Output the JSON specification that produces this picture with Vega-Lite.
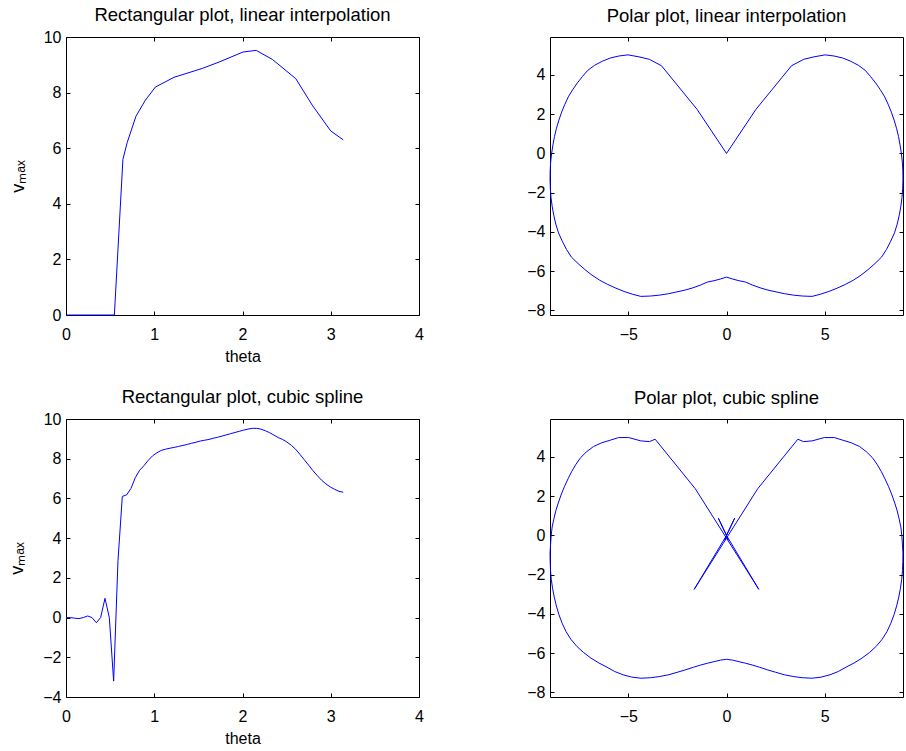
{
  "$schema": "https://vega.github.io/schema/vega-lite/v6.json",
  "padding": {"left": 8, "top": 5, "right": 0, "bottom": 0},
  "datasets": {
    "lin": [
      {"t": 0, "v": 0}, {"t": 0.548, "v": 0}, {"t": 0.645, "v": 5.6}, {"t": 0.693, "v": 6.2},
      {"t": 0.793, "v": 7.15}, {"t": 0.898, "v": 7.72}, {"t": 1.013, "v": 8.2}, {"t": 1.224, "v": 8.55},
      {"t": 1.545, "v": 8.87}, {"t": 1.735, "v": 9.1}, {"t": 2.006, "v": 9.46}, {"t": 2.155, "v": 9.52},
      {"t": 2.34, "v": 9.19}, {"t": 2.604, "v": 8.5}, {"t": 2.79, "v": 7.55}, {"t": 3.0, "v": 6.62},
      {"t": 3.1416, "v": 6.3}
    ],
    "spl": [
      {"t": 0, "v": 0}, {"t": 0.0491, "v": 0}, {"t": 0.0982, "v": -0.03}, {"t": 0.1473, "v": -0.05},
      {"t": 0.1963, "v": 0}, {"t": 0.2454, "v": 0.08}, {"t": 0.2945, "v": 0}, {"t": 0.3436, "v": -0.26},
      {"t": 0.3927, "v": 0}, {"t": 0.4418, "v": 0.97}, {"t": 0.4909, "v": 0}, {"t": 0.54, "v": -3.2},
      {"t": 0.589, "v": 2.86}, {"t": 0.6381, "v": 6.1}, {"t": 0.6872, "v": 6.18}, {"t": 0.7363, "v": 6.5},
      {"t": 0.7854, "v": 7.05}, {"t": 0.8345, "v": 7.42}, {"t": 0.8836, "v": 7.65}, {"t": 0.9327, "v": 7.92},
      {"t": 0.9817, "v": 8.15}, {"t": 1.0308, "v": 8.3}, {"t": 1.0799, "v": 8.42}, {"t": 1.129, "v": 8.48},
      {"t": 1.1781, "v": 8.53}, {"t": 1.2272, "v": 8.57}, {"t": 1.2763, "v": 8.62}, {"t": 1.3254, "v": 8.67},
      {"t": 1.3744, "v": 8.72}, {"t": 1.4235, "v": 8.78}, {"t": 1.4726, "v": 8.83}, {"t": 1.5217, "v": 8.89},
      {"t": 1.5708, "v": 8.93}, {"t": 1.6199, "v": 8.97}, {"t": 1.669, "v": 9.03}, {"t": 1.7181, "v": 9.08},
      {"t": 1.7671, "v": 9.14}, {"t": 1.8162, "v": 9.2}, {"t": 1.8653, "v": 9.26}, {"t": 1.9144, "v": 9.32},
      {"t": 1.9635, "v": 9.38}, {"t": 2.0126, "v": 9.44}, {"t": 2.0617, "v": 9.49}, {"t": 2.1108, "v": 9.53},
      {"t": 2.1598, "v": 9.53}, {"t": 2.2089, "v": 9.49}, {"t": 2.258, "v": 9.41}, {"t": 2.3071, "v": 9.31},
      {"t": 2.3562, "v": 9.19}, {"t": 2.4053, "v": 9.06}, {"t": 2.4544, "v": 8.97}, {"t": 2.5035, "v": 8.84},
      {"t": 2.5525, "v": 8.68}, {"t": 2.6016, "v": 8.48}, {"t": 2.6507, "v": 8.22}, {"t": 2.6998, "v": 7.95},
      {"t": 2.7489, "v": 7.68}, {"t": 2.798, "v": 7.4}, {"t": 2.8471, "v": 7.15}, {"t": 2.8962, "v": 6.92},
      {"t": 2.9452, "v": 6.73}, {"t": 2.9943, "v": 6.58}, {"t": 3.0434, "v": 6.46}, {"t": 3.0925, "v": 6.36},
      {"t": 3.1416, "v": 6.31}
    ],
    "plin": [
      {"s": "R", "k": 11, "x": 0, "y": 0}, {"s": "R", "k": 12, "x": 1.5, "y": 2.245}, {"s": "R", "k": 13, "x": 3.312, "y": 4.466},
      {"s": "R", "k": 14, "x": 3.933, "y": 4.793}, {"s": "R", "k": 15, "x": 4.459, "y": 4.92}, {"s": "R", "k": 16, "x": 5.02, "y": 5.02},
      {"s": "R", "k": 17, "x": 5.476, "y": 4.963}, {"s": "R", "k": 18, "x": 5.921, "y": 4.86}, {"s": "R", "k": 19, "x": 6.329, "y": 4.694},
      {"s": "R", "k": 20, "x": 6.718, "y": 4.489}, {"s": "R", "k": 21, "x": 7.063, "y": 4.234}, {"s": "R", "k": 22, "x": 7.335, "y": 3.921},
      {"s": "R", "k": 23, "x": 7.594, "y": 3.592}, {"s": "R", "k": 24, "x": 7.835, "y": 3.245}, {"s": "R", "k": 25, "x": 8.057, "y": 2.883},
      {"s": "R", "k": 26, "x": 8.235, "y": 2.498}, {"s": "R", "k": 27, "x": 8.396, "y": 2.103}, {"s": "R", "k": 28, "x": 8.537, "y": 1.698},
      {"s": "R", "k": 29, "x": 8.659, "y": 1.284}, {"s": "R", "k": 30, "x": 8.761, "y": 0.863}, {"s": "R", "k": 31, "x": 8.841, "y": 0.434},
      {"s": "R", "k": 32, "x": 8.907, "y": 0}, {"s": "R", "k": 33, "x": 8.956, "y": -0.44}, {"s": "R", "k": 34, "x": 8.982, "y": -0.885},
      {"s": "R", "k": 35, "x": 8.987, "y": -1.333}, {"s": "R", "k": 36, "x": 8.973, "y": -1.785}, {"s": "R", "k": 37, "x": 8.939, "y": -2.239},
      {"s": "R", "k": 38, "x": 8.88, "y": -2.694}, {"s": "R", "k": 39, "x": 8.799, "y": -3.148}, {"s": "R", "k": 40, "x": 8.694, "y": -3.601},
      {"s": "R", "k": 41, "x": 8.556, "y": -4.047}, {"s": "R", "k": 42, "x": 8.365, "y": -4.471}, {"s": "R", "k": 43, "x": 8.152, "y": -4.886},
      {"s": "R", "k": 44, "x": 7.901, "y": -5.279}, {"s": "R", "k": 45, "x": 7.562, "y": -5.609}, {"s": "R", "k": 46, "x": 7.211, "y": -5.918},
      {"s": "R", "k": 47, "x": 6.846, "y": -6.205}, {"s": "R", "k": 48, "x": 6.459, "y": -6.459}, {"s": "R", "k": 49, "x": 6.049, "y": -6.675},
      {"s": "R", "k": 50, "x": 5.633, "y": -6.864}, {"s": "R", "k": 51, "x": 5.214, "y": -7.031}, {"s": "R", "k": 52, "x": 4.791, "y": -7.17},
      {"s": "R", "k": 53, "x": 4.365, "y": -7.282}, {"s": "R", "k": 54, "x": 3.883, "y": -7.265}, {"s": "R", "k": 55, "x": 3.414, "y": -7.219},
      {"s": "R", "k": 56, "x": 2.96, "y": -7.146}, {"s": "R", "k": 57, "x": 2.523, "y": -7.052}, {"s": "R", "k": 58, "x": 2.112, "y": -6.962},
      {"s": "R", "k": 59, "x": 1.715, "y": -6.846}, {"s": "R", "k": 60, "x": 1.335, "y": -6.71}, {"s": "R", "k": 61, "x": 0.972, "y": -6.552},
      {"s": "R", "k": 62, "x": 0.639, "y": -6.484}, {"s": "R", "k": 63, "x": 0.314, "y": -6.398}, {"s": "R", "k": 64, "x": 0, "y": -6.3},
      {"s": "L", "k": 11, "x": 0, "y": 0}, {"s": "L", "k": 12, "x": -1.5, "y": 2.245}, {"s": "L", "k": 13, "x": -3.312, "y": 4.466},
      {"s": "L", "k": 14, "x": -3.933, "y": 4.793}, {"s": "L", "k": 15, "x": -4.459, "y": 4.92}, {"s": "L", "k": 16, "x": -5.02, "y": 5.02},
      {"s": "L", "k": 17, "x": -5.476, "y": 4.963}, {"s": "L", "k": 18, "x": -5.921, "y": 4.86}, {"s": "L", "k": 19, "x": -6.329, "y": 4.694},
      {"s": "L", "k": 20, "x": -6.718, "y": 4.489}, {"s": "L", "k": 21, "x": -7.063, "y": 4.234}, {"s": "L", "k": 22, "x": -7.335, "y": 3.921},
      {"s": "L", "k": 23, "x": -7.594, "y": 3.592}, {"s": "L", "k": 24, "x": -7.835, "y": 3.245}, {"s": "L", "k": 25, "x": -8.057, "y": 2.883},
      {"s": "L", "k": 26, "x": -8.235, "y": 2.498}, {"s": "L", "k": 27, "x": -8.396, "y": 2.103}, {"s": "L", "k": 28, "x": -8.537, "y": 1.698},
      {"s": "L", "k": 29, "x": -8.659, "y": 1.284}, {"s": "L", "k": 30, "x": -8.761, "y": 0.863}, {"s": "L", "k": 31, "x": -8.841, "y": 0.434},
      {"s": "L", "k": 32, "x": -8.907, "y": 0}, {"s": "L", "k": 33, "x": -8.956, "y": -0.44}, {"s": "L", "k": 34, "x": -8.982, "y": -0.885},
      {"s": "L", "k": 35, "x": -8.987, "y": -1.333}, {"s": "L", "k": 36, "x": -8.973, "y": -1.785}, {"s": "L", "k": 37, "x": -8.939, "y": -2.239},
      {"s": "L", "k": 38, "x": -8.88, "y": -2.694}, {"s": "L", "k": 39, "x": -8.799, "y": -3.148}, {"s": "L", "k": 40, "x": -8.694, "y": -3.601},
      {"s": "L", "k": 41, "x": -8.556, "y": -4.047}, {"s": "L", "k": 42, "x": -8.365, "y": -4.471}, {"s": "L", "k": 43, "x": -8.152, "y": -4.886},
      {"s": "L", "k": 44, "x": -7.901, "y": -5.279}, {"s": "L", "k": 45, "x": -7.562, "y": -5.609}, {"s": "L", "k": 46, "x": -7.211, "y": -5.918},
      {"s": "L", "k": 47, "x": -6.846, "y": -6.205}, {"s": "L", "k": 48, "x": -6.459, "y": -6.459}, {"s": "L", "k": 49, "x": -6.049, "y": -6.675},
      {"s": "L", "k": 50, "x": -5.633, "y": -6.864}, {"s": "L", "k": 51, "x": -5.214, "y": -7.031}, {"s": "L", "k": 52, "x": -4.791, "y": -7.17},
      {"s": "L", "k": 53, "x": -4.365, "y": -7.282}, {"s": "L", "k": 54, "x": -3.883, "y": -7.265}, {"s": "L", "k": 55, "x": -3.414, "y": -7.219},
      {"s": "L", "k": 56, "x": -2.96, "y": -7.146}, {"s": "L", "k": 57, "x": -2.523, "y": -7.052}, {"s": "L", "k": 58, "x": -2.112, "y": -6.962},
      {"s": "L", "k": 59, "x": -1.715, "y": -6.846}, {"s": "L", "k": 60, "x": -1.335, "y": -6.71}, {"s": "L", "k": 61, "x": -0.972, "y": -6.552},
      {"s": "L", "k": 62, "x": -0.639, "y": -6.484}, {"s": "L", "k": 63, "x": -0.314, "y": -6.398}, {"s": "L", "k": 64, "x": 0, "y": -6.3}
    ],
    "pspl": [
      {"s": "R", "k": 0, "x": 0, "y": 0}, {"s": "R", "k": 1, "x": 0, "y": 0}, {"s": "R", "k": 2, "x": -0.003, "y": -0.03},
      {"s": "R", "k": 3, "x": -0.007, "y": -0.049}, {"s": "R", "k": 4, "x": 0, "y": 0}, {"s": "R", "k": 5, "x": 0.019, "y": 0.078},
      {"s": "R", "k": 6, "x": 0, "y": 0}, {"s": "R", "k": 7, "x": -0.088, "y": -0.245}, {"s": "R", "k": 8, "x": 0, "y": 0},
      {"s": "R", "k": 9, "x": 0.415, "y": 0.877}, {"s": "R", "k": 10, "x": 0, "y": 0}, {"s": "R", "k": 11, "x": -1.645, "y": -2.745},
      {"s": "R", "k": 12, "x": 1.589, "y": 2.378}, {"s": "R", "k": 13, "x": 3.634, "y": 4.9}, {"s": "R", "k": 14, "x": 3.921, "y": 4.777},
      {"s": "R", "k": 15, "x": 4.365, "y": 4.816}, {"s": "R", "k": 16, "x": 4.985, "y": 4.985}, {"s": "R", "k": 17, "x": 5.498, "y": 4.983},
      {"s": "R", "k": 18, "x": 5.913, "y": 4.853}, {"s": "R", "k": 19, "x": 6.361, "y": 4.718}, {"s": "R", "k": 20, "x": 6.776, "y": 4.528},
      {"s": "R", "k": 21, "x": 7.119, "y": 4.267}, {"s": "R", "k": 22, "x": 7.426, "y": 3.969}, {"s": "R", "k": 23, "x": 7.666, "y": 3.626},
      {"s": "R", "k": 24, "x": 7.881, "y": 3.264}, {"s": "R", "k": 25, "x": 8.069, "y": 2.887}, {"s": "R", "k": 26, "x": 8.249, "y": 2.502},
      {"s": "R", "k": 27, "x": 8.41, "y": 2.107}, {"s": "R", "k": 28, "x": 8.553, "y": 1.701}, {"s": "R", "k": 29, "x": 8.685, "y": 1.288},
      {"s": "R", "k": 30, "x": 8.787, "y": 0.866}, {"s": "R", "k": 31, "x": 8.879, "y": 0.436}, {"s": "R", "k": 32, "x": 8.93, "y": 0},
      {"s": "R", "k": 33, "x": 8.959, "y": -0.44}, {"s": "R", "k": 34, "x": 8.987, "y": -0.885}, {"s": "R", "k": 35, "x": 8.982, "y": -1.332},
      {"s": "R", "k": 36, "x": 8.964, "y": -1.783}, {"s": "R", "k": 37, "x": 8.924, "y": -2.235}, {"s": "R", "k": 38, "x": 8.861, "y": -2.688},
      {"s": "R", "k": 39, "x": 8.775, "y": -3.14}, {"s": "R", "k": 40, "x": 8.666, "y": -3.59}, {"s": "R", "k": 41, "x": 8.534, "y": -4.036},
      {"s": "R", "k": 42, "x": 8.37, "y": -4.474}, {"s": "R", "k": 43, "x": 8.174, "y": -4.899}, {"s": "R", "k": 44, "x": 7.924, "y": -5.295},
      {"s": "R", "k": 45, "x": 7.622, "y": -5.653}, {"s": "R", "k": 46, "x": 7.274, "y": -5.97}, {"s": "R", "k": 47, "x": 6.898, "y": -6.252},
      {"s": "R", "k": 48, "x": 6.498, "y": -6.498}, {"s": "R", "k": 49, "x": 6.084, "y": -6.713}, {"s": "R", "k": 50, "x": 5.69, "y": -6.934},
      {"s": "R", "k": 51, "x": 5.266, "y": -7.1}, {"s": "R", "k": 52, "x": 4.822, "y": -7.217}, {"s": "R", "k": 53, "x": 4.36, "y": -7.274},
      {"s": "R", "k": 54, "x": 3.875, "y": -7.249}, {"s": "R", "k": 55, "x": 3.399, "y": -7.187}, {"s": "R", "k": 56, "x": 2.939, "y": -7.095},
      {"s": "R", "k": 57, "x": 2.493, "y": -6.967}, {"s": "R", "k": 58, "x": 2.075, "y": -6.842}, {"s": "R", "k": 59, "x": 1.681, "y": -6.713},
      {"s": "R", "k": 60, "x": 1.313, "y": -6.601}, {"s": "R", "k": 61, "x": 0.965, "y": -6.509}, {"s": "R", "k": 62, "x": 0.633, "y": -6.429},
      {"s": "R", "k": 63, "x": 0.312, "y": -6.352}, {"s": "R", "k": 64, "x": 0, "y": -6.31},
      {"s": "L", "k": 0, "x": 0, "y": 0}, {"s": "L", "k": 1, "x": 0, "y": 0}, {"s": "L", "k": 2, "x": 0.003, "y": -0.03},
      {"s": "L", "k": 3, "x": 0.007, "y": -0.049}, {"s": "L", "k": 4, "x": 0, "y": 0}, {"s": "L", "k": 5, "x": -0.019, "y": 0.078},
      {"s": "L", "k": 6, "x": 0, "y": 0}, {"s": "L", "k": 7, "x": 0.088, "y": -0.245}, {"s": "L", "k": 8, "x": 0, "y": 0},
      {"s": "L", "k": 9, "x": -0.415, "y": 0.877}, {"s": "L", "k": 10, "x": 0, "y": 0}, {"s": "L", "k": 11, "x": 1.645, "y": -2.745},
      {"s": "L", "k": 12, "x": -1.589, "y": 2.378}, {"s": "L", "k": 13, "x": -3.634, "y": 4.9}, {"s": "L", "k": 14, "x": -3.921, "y": 4.777},
      {"s": "L", "k": 15, "x": -4.365, "y": 4.816}, {"s": "L", "k": 16, "x": -4.985, "y": 4.985}, {"s": "L", "k": 17, "x": -5.498, "y": 4.983},
      {"s": "L", "k": 18, "x": -5.913, "y": 4.853}, {"s": "L", "k": 19, "x": -6.361, "y": 4.718}, {"s": "L", "k": 20, "x": -6.776, "y": 4.528},
      {"s": "L", "k": 21, "x": -7.119, "y": 4.267}, {"s": "L", "k": 22, "x": -7.426, "y": 3.969}, {"s": "L", "k": 23, "x": -7.666, "y": 3.626},
      {"s": "L", "k": 24, "x": -7.881, "y": 3.264}, {"s": "L", "k": 25, "x": -8.069, "y": 2.887}, {"s": "L", "k": 26, "x": -8.249, "y": 2.502},
      {"s": "L", "k": 27, "x": -8.41, "y": 2.107}, {"s": "L", "k": 28, "x": -8.553, "y": 1.701}, {"s": "L", "k": 29, "x": -8.685, "y": 1.288},
      {"s": "L", "k": 30, "x": -8.787, "y": 0.866}, {"s": "L", "k": 31, "x": -8.879, "y": 0.436}, {"s": "L", "k": 32, "x": -8.93, "y": 0},
      {"s": "L", "k": 33, "x": -8.959, "y": -0.44}, {"s": "L", "k": 34, "x": -8.987, "y": -0.885}, {"s": "L", "k": 35, "x": -8.982, "y": -1.332},
      {"s": "L", "k": 36, "x": -8.964, "y": -1.783}, {"s": "L", "k": 37, "x": -8.924, "y": -2.235}, {"s": "L", "k": 38, "x": -8.861, "y": -2.688},
      {"s": "L", "k": 39, "x": -8.775, "y": -3.14}, {"s": "L", "k": 40, "x": -8.666, "y": -3.59}, {"s": "L", "k": 41, "x": -8.534, "y": -4.036},
      {"s": "L", "k": 42, "x": -8.37, "y": -4.474}, {"s": "L", "k": 43, "x": -8.174, "y": -4.899}, {"s": "L", "k": 44, "x": -7.924, "y": -5.295},
      {"s": "L", "k": 45, "x": -7.622, "y": -5.653}, {"s": "L", "k": 46, "x": -7.274, "y": -5.97}, {"s": "L", "k": 47, "x": -6.898, "y": -6.252},
      {"s": "L", "k": 48, "x": -6.498, "y": -6.498}, {"s": "L", "k": 49, "x": -6.084, "y": -6.713}, {"s": "L", "k": 50, "x": -5.69, "y": -6.934},
      {"s": "L", "k": 51, "x": -5.266, "y": -7.1}, {"s": "L", "k": 52, "x": -4.822, "y": -7.217}, {"s": "L", "k": 53, "x": -4.36, "y": -7.274},
      {"s": "L", "k": 54, "x": -3.875, "y": -7.249}, {"s": "L", "k": 55, "x": -3.399, "y": -7.187}, {"s": "L", "k": 56, "x": -2.939, "y": -7.095},
      {"s": "L", "k": 57, "x": -2.493, "y": -6.967}, {"s": "L", "k": 58, "x": -2.075, "y": -6.842}, {"s": "L", "k": 59, "x": -1.681, "y": -6.713},
      {"s": "L", "k": 60, "x": -1.313, "y": -6.601}, {"s": "L", "k": 61, "x": -0.965, "y": -6.509}, {"s": "L", "k": 62, "x": -0.633, "y": -6.429},
      {"s": "L", "k": 63, "x": -0.312, "y": -6.352}, {"s": "L", "k": 64, "x": 0, "y": -6.31}
    ]
  },
  "columns": 2,
  "spacing": {"row": 104, "column": 131},
  "bounds": "flush",
  "concat": [
    {
      "data": {"name": "lin"},
      "width": 353, "height": 278,
      "title": {"text": "Rectangular plot, linear interpolation", "offset": 4.5},
      "layer": [
        {
          "mark": {"type": "line", "color": "#0000ff", "strokeWidth": 1},
          "encoding": {
            "x": {"field": "t", "type": "quantitative", "scale": {"domain": [0, 4], "nice": false, "zero": false}, "axis": {"values": [0, 1, 2, 3, 4], "title": "theta", "orient": "bottom"}},
            "y": {"field": "v", "type": "quantitative", "scale": {"domain": [0, 10], "nice": false, "zero": false}, "axis": {"values": [0, 2, 4, 6, 8, 10], "title": "vₘₐₓ", "orient": "left"}},
            "order": {"field": "t"}
          }
        },
        {
          "mark": {"type": "line", "strokeOpacity": 0},
          "encoding": {
            "x": {"field": "t", "type": "quantitative", "axis": {"values": [0, 1, 2, 3, 4], "labels": false, "title": null, "orient": "top"}},
            "y": {"field": "v", "type": "quantitative", "axis": {"values": [0, 2, 4, 6, 8, 10], "labels": false, "title": null, "orient": "right"}}
          }
        }
      ],
      "resolve": {"axis": {"x": "independent", "y": "independent"}}
    },
    {
      "data": {"name": "plin"},
      "width": 353, "height": 278,
      "title": {"text": "Polar plot, linear interpolation", "offset": 11.5},
      "layer": [
        {
          "mark": {"type": "line", "color": "#0000ff", "strokeWidth": 1},
          "encoding": {
            "x": {"field": "x", "type": "quantitative", "scale": {"domain": [-8.99, 8.99], "nice": false, "zero": false}, "axis": {"values": [-5, 0, 5], "title": null, "orient": "bottom"}},
            "y": {"field": "y", "type": "quantitative", "scale": {"domain": [-8.23, 5.93], "nice": false, "zero": false}, "axis": {"values": [-8, -6, -4, -2, 0, 2, 4], "title": null, "orient": "left"}},
            "detail": {"field": "s"},
            "order": {"field": "k"}
          }
        },
        {
          "mark": {"type": "line", "strokeOpacity": 0},
          "encoding": {
            "x": {"field": "x", "type": "quantitative", "axis": {"values": [-5, 0, 5], "labels": false, "title": null, "orient": "top"}},
            "y": {"field": "y", "type": "quantitative", "axis": {"values": [-8, -6, -4, -2, 0, 2, 4], "labels": false, "title": null, "orient": "right"}},
            "detail": {"field": "s"},
            "order": {"field": "k"}
          }
        }
      ],
      "resolve": {"axis": {"x": "independent", "y": "independent"}}
    },
    {
      "data": {"name": "spl"},
      "width": 353, "height": 278,
      "title": {"text": "Rectangular plot, cubic spline", "offset": 4.5},
      "layer": [
        {
          "mark": {"type": "line", "color": "#0000ff", "strokeWidth": 1},
          "encoding": {
            "x": {"field": "t", "type": "quantitative", "scale": {"domain": [0, 4], "nice": false, "zero": false}, "axis": {"values": [0, 1, 2, 3, 4], "title": "theta", "orient": "bottom"}},
            "y": {"field": "v", "type": "quantitative", "scale": {"domain": [-4, 10], "nice": false, "zero": false}, "axis": {"values": [-4, -2, 0, 2, 4, 6, 8, 10], "title": "vₘₐₓ", "orient": "left"}},
            "order": {"field": "t"}
          }
        },
        {
          "mark": {"type": "line", "strokeOpacity": 0},
          "encoding": {
            "x": {"field": "t", "type": "quantitative", "axis": {"values": [0, 1, 2, 3, 4], "labels": false, "title": null, "orient": "top"}},
            "y": {"field": "v", "type": "quantitative", "axis": {"values": [-4, -2, 0, 2, 4, 6, 8, 10], "labels": false, "title": null, "orient": "right"}}
          }
        }
      ],
      "resolve": {"axis": {"x": "independent", "y": "independent"}}
    },
    {
      "data": {"name": "pspl"},
      "width": 353, "height": 278,
      "title": {"text": "Polar plot, cubic spline", "offset": 11.5},
      "layer": [
        {
          "mark": {"type": "line", "color": "#0000ff", "strokeWidth": 1},
          "encoding": {
            "x": {"field": "x", "type": "quantitative", "scale": {"domain": [-8.99, 8.99], "nice": false, "zero": false}, "axis": {"values": [-5, 0, 5], "title": null, "orient": "bottom"}},
            "y": {"field": "y", "type": "quantitative", "scale": {"domain": [-8.23, 5.93], "nice": false, "zero": false}, "axis": {"values": [-8, -6, -4, -2, 0, 2, 4], "title": null, "orient": "left"}},
            "detail": {"field": "s"},
            "order": {"field": "k"}
          }
        },
        {
          "mark": {"type": "line", "strokeOpacity": 0},
          "encoding": {
            "x": {"field": "x", "type": "quantitative", "axis": {"values": [-5, 0, 5], "labels": false, "title": null, "orient": "top"}},
            "y": {"field": "y", "type": "quantitative", "axis": {"values": [-8, -6, -4, -2, 0, 2, 4], "labels": false, "title": null, "orient": "right"}},
            "detail": {"field": "s"},
            "order": {"field": "k"}
          }
        }
      ],
      "resolve": {"axis": {"x": "independent", "y": "independent"}}
    }
  ],
  "config": {
    "font": "Liberation Sans",
    "background": "#ffffff",
    "view": {"stroke": "#000000", "strokeWidth": 1},
    "axis": {
      "domain": false, "grid": false, "ticks": true, "tickColor": "#000000", "tickSize": -4, "tickWidth": 1,
      "labelFontSize": 16, "labelColor": "#000000", "labelFlush": false, "labelOverlap": false, "labelBound": false,
      "titleFontSize": 16, "titleFontWeight": "normal", "titleColor": "#000000", "labelPadding": 9
    },
    "axisX": {"labelPadding": 15, "titlePadding": 6},
    "axisY": {"titlePadding": 16, "titleFontSize": 18},
    "title": {"fontSize": 18.5, "fontWeight": "normal", "color": "#000000", "baseline": "alphabetic", "frame": "group"}
  }
}
